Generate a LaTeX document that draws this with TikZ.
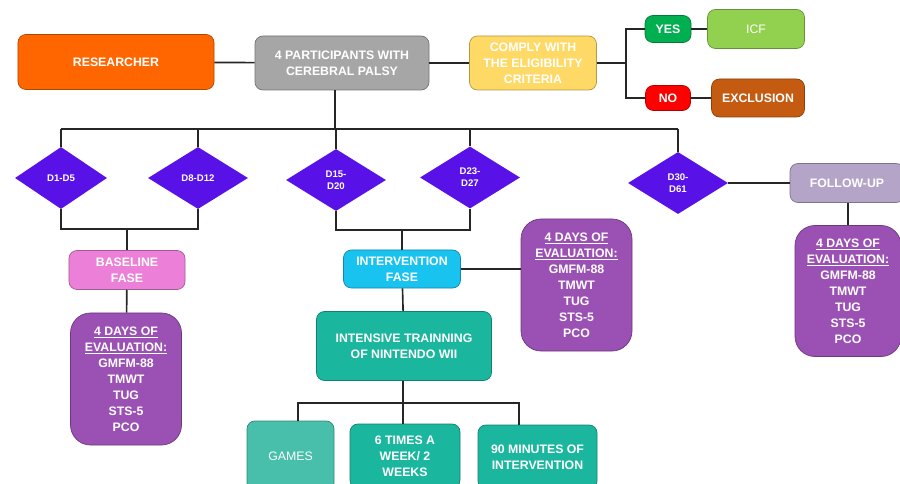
\documentclass[tikz,border=0pt]{standalone}
\usepackage{fontspec}
\setmainfont{Liberation Sans}
\usetikzlibrary{shapes.geometric}
\definecolor{resorange}{RGB}{255,102,0}
\definecolor{partgray}{RGB}{166,166,166}
\definecolor{compyellow}{RGB}{255,217,102}
\definecolor{yesgreen}{RGB}{0,176,80}
\definecolor{icfgreen}{RGB}{146,208,80}
\definecolor{nored}{RGB}{255,0,0}
\definecolor{exclbrown}{RGB}{197,90,17}
\definecolor{dayblue}{RGB}{88,18,232}
\definecolor{basepink}{RGB}{236,128,216}
\definecolor{evalpurple}{RGB}{155,80,180}
\definecolor{intercyan}{RGB}{25,195,240}
\definecolor{wiiteal}{RGB}{26,183,158}
\definecolor{gamesteal}{RGB}{72,191,170}
\definecolor{followlilac}{RGB}{180,164,200}
\newcommand{\boxfont}{\fontsize{10.5}{13.6}\selectfont\bfseries}
\newcommand{\dayfont}{\fontsize{8.2}{10}\selectfont\bfseries}

\begin{document}
\begin{tikzpicture}[x=0.03cm,y=-0.03cm,
  line/.style={draw=black!85,line width=1.4pt},
  box/.style={rectangle,rounded corners=0.24cm,fill=#1,draw=#1!70!black,
    line width=0.6pt,text=white,font=\boxfont,align=center,inner sep=1pt},
  eval node/.style={box=evalpurple,rounded corners=0.6cm,
    minimum width=3.33cm,minimum height=3.96cm},
  day node/.style={diamond,fill=dayblue,text=white,font=\dayfont,
    align=center,inner sep=0pt,minimum width=3cm,minimum height=1.86cm}]

  \clip (0,0) rectangle (900,484);
  \useasboundingbox (0,0) rectangle (900,484);

  % top row
  \node[box=resorange,minimum width=5.88cm,minimum height=1.65cm] (res) at (116,62) {RESEARCHER};
  \node[box=partgray,minimum width=5.22cm,minimum height=1.62cm] (part) at (342,63) {4 PARTICIPANTS WITH\\CEREBRAL PALSY};
  \node[box=compyellow,minimum width=3.81cm,minimum height=1.62cm] (comply) at (533,63) {COMPLY WITH\\THE ELIGIBILITY\\CRITERIA};
  \node[box=yesgreen,minimum width=1.38cm,minimum height=0.81cm] (yes) at (668,29) {YES};
  \node[box=icfgreen,minimum width=2.91cm,minimum height=1.17cm,font=\fontsize{10.5}{13.6}\selectfont] (icf) at (756,29) {ICF};
  \node[box=nored,minimum width=1.35cm,minimum height=0.75cm] (no) at (668,98) {NO};
  \node[box=exclbrown,minimum width=2.79cm,minimum height=1.14cm] (excl) at (758,98) {EXCLUSION};

  % days
  \node[day node,minimum width=2.76cm] (d1) at (61,178) {D1-D5};
  \node[day node] (d8) at (198,178) {D8-D12};
  \node[day node] (d15) at (336,180) {D15-\\D20};
  \node[day node] (d23) at (470,177.5) {D23-\\D27};
  \node[day node] (d30) at (678,183) {D30-\\D61};

  % phases
  \node[box=basepink,minimum width=3.48cm,minimum height=1.17cm] (base) at (127,270) {BASELINE\\FASE};
  \node[box=intercyan,minimum width=3.51cm,minimum height=1.14cm] (inter) at (402,269) {INTERVENTION\\FASE};
  \node[box=followlilac,minimum width=3.42cm,minimum height=1.17cm] (follow) at (847,183) {FOLLOW-UP};

  % evaluations
  \node[eval node] (eval1) at (126,379) {\underline{4 DAYS OF}\\\underline{EVALUATION:}\\GMFM-88\\TMWT\\TUG\\STS-5\\PCO};
  \node[eval node] (eval2) at (576.5,285) {\underline{4 DAYS OF}\\\underline{EVALUATION:}\\GMFM-88\\TMWT\\TUG\\STS-5\\PCO};
  \node[eval node,minimum width=3.18cm,minimum height=3.93cm] (eval3) at (848,291) {\underline{4 DAYS OF}\\\underline{EVALUATION:}\\GMFM-88\\TMWT\\TUG\\STS-5\\PCO};

  % training
  \node[box=wiiteal,minimum width=5.25cm,minimum height=2.07cm] (intens) at (404,346) {INTENSIVE TRAINNING\\OF NINTENDO WII};
  \node[box=gamesteal,minimum width=2.61cm,minimum height=2.1cm,font=\fontsize{10.5}{13.6}\selectfont] (games) at (290.5,456) {GAMES};
  \node[box=wiiteal,minimum width=3.3cm,minimum height=1.92cm] (six) at (405,456) {6 TIMES A\\WEEK/ 2\\WEEKS};
  \node[box=wiiteal,minimum width=3.57cm,minimum height=1.92cm] (ninety) at (537.5,457) {90 MINUTES OF\\INTERVENTION};

  \coordinate (yn) at (626,63);
  \coordinate (bus) at (335,129);
  \coordinate (bjoin) at (127,229);
  \coordinate (ijoin) at (402,230);
  \coordinate (tsplit) at (403,403);

  % connectors
  \draw[line] (res) -- (part);
  \draw[line] (part) -- (comply);
  \draw[line] (comply) -- (yn);
  \draw[line] (yn) |- (yes);
  \draw[line] (yn) |- (no);
  \draw[line] (yes) -- (icf);
  \draw[line] (no) -- (excl);
  \draw[line] (part.south -| bus) -- (bus);
  \draw[line] (d1.north |- bus) -- (d30.north |- bus);
  \foreach \d in {d1,d8,d15,d23,d30}
    \draw[line] (\d.north) -- (\d.north |- bus);
  \draw[line] (d1.south) -- (d1.south |- bjoin) -- (d8.south |- bjoin) -- (d8.south);
  \draw[line] (bjoin) -- (base.north);
  \draw[line] (base) -- (eval1);
  \draw[line] (d15.south) -- (d15.south |- ijoin) -- (d23.south |- ijoin) -- (d23.south);
  \draw[line] (ijoin) -- (inter.north);
  \draw[line] (inter.east) -- (inter.east -| eval2.west);
  \draw[line] (inter) -- (intens);
  \draw[line] (intens.south -| tsplit) -- (tsplit);
  \draw[line] ([xshift=0.23cm]games.north) |- (tsplit);
  \draw[line] (six.north -| tsplit) -- (tsplit);
  \draw[line] ([xshift=-0.56cm]ninety.north) |- (tsplit);
  \draw[line] (d30) -- (follow);
  \draw[line] (follow.south -| eval3) -- (eval3);
\end{tikzpicture}
\end{document}
